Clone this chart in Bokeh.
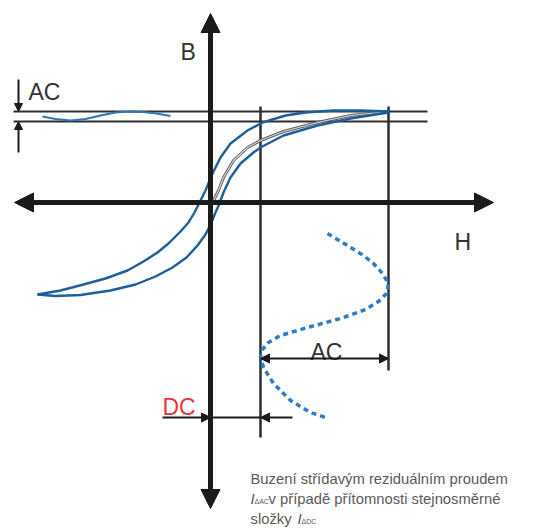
from bokeh.plotting import figure
from bokeh.models import Range1d, Arrow, NormalHead
from bokeh.core.properties import value
from bokeh.embed import file_html
from bokeh.resources import INLINE

# ---- data (diagram coordinates, y grows downward) ----
# axes
b_axis_x = [210, 210]
b_axis_y = [508, 13]
h_axis_x = [14, 493]
h_axis_y = [202, 202]

# horizontal saturation lines
sat_levels = [111, 121]
sat_x0 = [13, 13]
sat_x1 = [427, 427]

# vertical guide lines
guide_x = [260, 388]
guide_top = [106, 106]
guide_bottom = [437, 370]

# hysteresis loop: descending (upper) branch, right -> left
upper_x = [388, 360, 333, 305, 285, 262, 247, 230, 220, 212, 205, 199, 194, 188, 180, 168, 157, 143, 127, 105, 83, 60, 37]
upper_y = [111, 110, 110, 112, 115, 122, 130, 143, 157, 173, 190, 202, 212, 222, 231, 243, 252, 261, 270, 278, 284, 290, 294]
# ascending (lower) branch, left -> right
lower_x = [37, 55, 80, 110, 135, 155, 172, 186, 197, 205, 211, 215, 219, 223, 230, 240, 253, 260, 283, 317, 350, 388]
lower_y = [294, 295.5, 294.5, 290, 284, 276, 267, 257, 245, 234, 222, 212, 203, 192, 177, 163, 152, 147, 135, 125, 118, 112]
# initial magnetisation curve
init_x = [212, 215, 218, 223, 233, 247, 260, 283, 317, 350, 388]
init_y = [202, 196, 190, 177, 160, 147, 140, 131, 122, 115, 111]

# AC ripple of B (top left)
ripple_x = [42, 55, 70, 85, 100, 115, 128, 142, 156, 170]
ripple_y = [116, 118.5, 120, 118.5, 115, 112, 111, 111.5, 113, 115.5]

# AC excitation (dotted sine)
exc_x = [327, 347, 363, 373, 382, 388, 386, 378, 365, 340, 307, 280, 268, 262, 260, 263, 273, 290, 310, 325]
exc_y = [233, 245, 255, 263, 273, 283, 293, 301, 309, 318, 327, 335, 342, 349, 356, 367, 383, 400, 412, 417]

# dimension marks
ac_dim_x = [260, 388]
ac_dim_y = 358
dc_dim_y = 417
dc_left_from, dc_left_to = 162, 210
dc_right_from, dc_right_to = 292, 260
left_mark_x = 18
left_mark_top, left_mark_bottom = 79, 152

# labels
label_text = ["AC", "B", "H", "AC"]
label_x = [28, 180, 454, 310]
label_y = [91, 51, 241, 351]
dc_text = ["DC"]
dc_x = [162]
dc_y = [406]

caption_lines = ["Buzení střídavým reziduálním proudem", "v případě přítomnosti stejnosměrné", "složky"]
caption_x = [250, 268, 250]
caption_y = [478, 498, 518]
sym_text = ["I", "I"]
sym_x = [250, 297]
sym_y = [498, 518]
sub_text = ["ΔAC", "ΔDC"]
sub_x = [254, 301]
sub_y = [501, 521]

# ---- styles ----
BLACK = "#1b1b1b"
DARK = "#2e2e2e"
LOOP = "#1d5e9b"
DOT = "#2b7dc8"
RIPPLE = "#2a78bb"
RED = "#e8343c"
TXT = "#333333"
CAP = "#5a5a5a"

W, H = 534, 530
p = figure(width=W, height=H, x_range=Range1d(0, W), y_range=Range1d(H, 0),
           output_backend="svg", toolbar_location=None, min_border=0,
           x_axis_location=None, y_axis_location=None)
p.grid.visible = False
p.outline_line_color = None
p.background_fill_color = "white"
p.border_fill_color = "white"

# saturation lines
p.segment(x0=sat_x0, y0=sat_levels, x1=sat_x1, y1=sat_levels, line_color=DARK, line_width=2)
# guide lines
p.segment(x0=guide_x, y0=guide_top, x1=guide_x, y1=guide_bottom, line_color=DARK, line_width=2.5)

# curves
p.line(init_x, init_y, line_color="#5e5e5e", line_width=3.0)
p.line(init_x, init_y, line_color="#d8d8d8", line_width=1.1)
p.line(upper_x, upper_y, line_color=LOOP, line_width=2.4)
p.line(lower_x, lower_y, line_color=LOOP, line_width=2.4)
p.line(ripple_x, ripple_y, line_color=RIPPLE, line_width=2.2)
p.line(exc_x, exc_y, line_color=DOT, line_width=3.5, line_dash="5 4")

# main axes
def head(size, color):
    return NormalHead(size=size, fill_color=color, line_color=color, line_width=1)

p.add_layout(Arrow(start=head(19, BLACK), end=head(19, BLACK),
                   x_start=b_axis_x[0], y_start=b_axis_y[0], x_end=b_axis_x[1], y_end=b_axis_y[1],
                   line_color=BLACK, line_width=5))
p.add_layout(Arrow(start=head(19, BLACK), end=head(19, BLACK),
                   x_start=h_axis_x[0], y_start=h_axis_y[0], x_end=h_axis_x[1], y_end=h_axis_y[1],
                   line_color=BLACK, line_width=5))

# AC dimension arrow
p.add_layout(Arrow(start=head(9, BLACK), end=head(9, BLACK),
                   x_start=ac_dim_x[0], y_start=ac_dim_y, x_end=ac_dim_x[1], y_end=ac_dim_y,
                   line_color=BLACK, line_width=2))
# DC dimension
p.segment(x0=[dc_left_to], y0=[dc_dim_y], x1=[dc_right_to], y1=[dc_dim_y], line_color=BLACK, line_width=2)
p.add_layout(Arrow(end=head(9, BLACK), x_start=dc_left_from, y_start=dc_dim_y, x_end=dc_left_to, y_end=dc_dim_y,
                   line_color=BLACK, line_width=2))
p.add_layout(Arrow(end=head(9, BLACK), x_start=dc_right_from, y_start=dc_dim_y, x_end=dc_right_to, y_end=dc_dim_y,
                   line_color=BLACK, line_width=2))
# left AC mark
p.add_layout(Arrow(end=head(8, BLACK), x_start=left_mark_x, y_start=left_mark_top, x_end=left_mark_x,
                   y_end=sat_levels[0], line_color=BLACK, line_width=2))
p.add_layout(Arrow(end=head(8, BLACK), x_start=left_mark_x, y_start=left_mark_bottom, x_end=left_mark_x,
                   y_end=sat_levels[1], line_color=BLACK, line_width=2))

# labels
p.text(x=label_x, y=label_y, text=label_text, text_font=value("Liberation Sans"), text_font_size="23px",
       text_color=TXT, text_baseline="alphabetic", text_align="left")
p.text(x=dc_x, y=dc_y, text=dc_text, text_font=value("Liberation Sans"), text_font_size="23px",
       text_color=RED, text_baseline="alphabetic", text_align="left")

# caption
p.text(x=caption_x, y=caption_y, text=caption_lines, text_font=value("Liberation Sans"), text_font_size="14.8px",
       text_color=CAP, text_baseline="alphabetic", text_align="left")
p.text(x=sym_x, y=sym_y, text=sym_text, text_font=value("Liberation Sans"), text_font_size="14.8px",
       text_font_style="italic", text_color=CAP, text_baseline="alphabetic", text_align="left")
p.text(x=sub_x, y=sub_y, text=sub_text, text_font=value("Liberation Sans"), text_font_size="7px",
       text_color=CAP, text_baseline="alphabetic", text_align="left")

open("out.html", "w").write(file_html(p, INLINE))
